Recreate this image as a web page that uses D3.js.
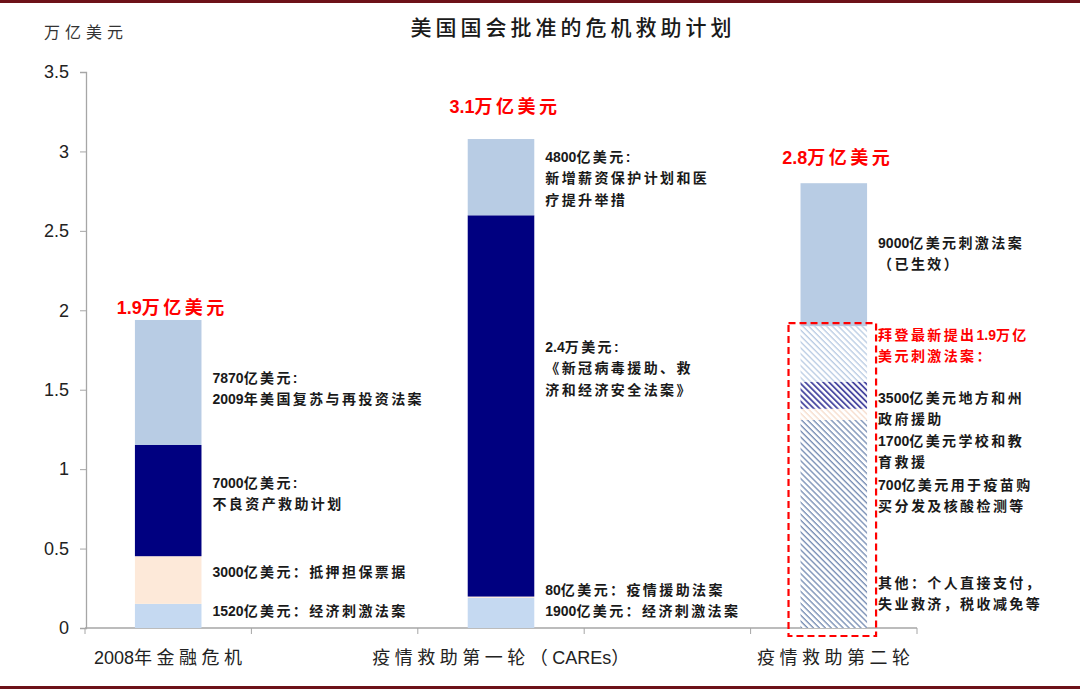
<!DOCTYPE html>
<html>
<head>
<meta charset="utf-8">
<script src="https://d3js.org/d3.v7.min.js"></script>
<style>
  body { margin: 0; background: #fff; }
  svg { display: block; }
  text { font-family: "Liberation Sans", "Noto Sans CJK SC", sans-serif; }
</style>
</head>
<body>
<svg id="chart" width="1080" height="689"></svg>
<script>
// x slots: the original chart leaves an empty category between bars
var xSlots = ["2008年金融危机", "gap1", "疫情救助第一轮（CAREs）", "gap2", "疫情救助第二轮"];
var barCats = ["2008年金融危机", "疫情救助第一轮（CAREs）", "疫情救助第二轮"];
var yTicks = [0, 0.5, 1, 1.5, 2, 2.5, 3, 3.5];

// stacked segments, bottom to top, in 万亿美元
var crisis2008 = [0.152, 0.30, 0.70, 0.787];
var caresRound1 = [0.19, 0.008, 2.4, 0.48];
var covidRound2 = [1.31, 0.07, 0.17, 0.35, 0.90];

var totals = ["1.9万亿美元", "3.1万亿美元", "2.8万亿美元"];
var totalsAt = [2.014, 3.279, 2.959];   // where the red total labels sit (y value)

// annotation text per bar: [y value of first line, lines, colour]
var notes2008 = [
  [1.574, ["7870亿美元:", "2009年美国复苏与再投资法案"]],
  [0.913, ["7000亿美元:", "不良资产救助计划"]],
  [0.352, ["3000亿美元：抵押担保票据"]],
  [0.107, ["1520亿美元：经济刺激法案"]]
];
var notesCares = [
  [2.965, ["4800亿美元:", "新增薪资保护计划和医", "疗提升举措"]],
  [1.769, ["2.4万美元:", "《新冠病毒援助、救", "济和经济安全法案》"]],
  [0.239, ["80亿美元：疫情援助法案"]],
  [0.107, ["1900亿美元：经济刺激法案"]]
];
var notesRound2 = [
  [2.424, ["9000亿美元刺激法案", "（已生效）"]],
  [1.845, ["拜登最新提出1.9万亿", "美元刺激法案："], "red"],
  [1.448, ["3500亿美元地方和州", "政府援助"]],
  [1.177, ["1700亿美元学校和教", "育救援"]],
  [0.900, ["700亿美元用于疫苗购", "买分发及核酸检测等"]],
  [0.283, ["其他：个人直接支付，", "失业救济，税收减免等"]]
];

var svg = d3.select("#chart");
var defs = svg.append("defs");

// write one line of mixed text: CJK runs spaced out, latin/digit runs tight
function mixedLine(sel, str, spacing, first) {
  var runs = str.split(/([\x00-\x7F]+)/).filter(function(s) { return s.length; });
  runs.forEach(function(r, k) {
    var ts = sel.append("tspan").text(r)
      .style("letter-spacing", /^[\x00-\x7F]+$/.test(r) ? "0px" : spacing + "px");
    if (k === 0 && first) first(ts);
  });
}

// hatch patterns for the proposed (not yet passed) package
function hatch(id, color, w) {
  var p = defs.append("pattern")
    .attr("id", id)
    .attr("patternUnits", "userSpaceOnUse")
    .attr("width", 4.2).attr("height", 4.2)
    .attr("patternTransform", "rotate(-45)");
  p.append("rect").attr("width", 4.2).attr("height", 4.2).attr("fill", "#fff");
  p.append("line").attr("x1", 1).attr("y1", 0).attr("x2", 1).attr("y2", 4.2)
    .attr("stroke", color).attr("stroke-width", w);
}
hatch("h-other", "#7a90b6", 1.4);
hatch("h-peach", "#f6dccb", 1.3);
hatch("h-navy", "#3a3a9a", 1.7);
hatch("h-light", "#b8cbe3", 1.3);

var fills = [
  ["#c5d9f1", "#fde9d9", "#000080", "#b8cce4"],
  ["#c5d9f1", "#fde9d9", "#000080", "#b8cce4"],
  ["url(#h-other)", "url(#h-peach)", "url(#h-navy)", "url(#h-light)", "#b8cce4"]
];

var x = d3.scaleBand().domain(xSlots).range([85, 917]);
var y = d3.scaleLinear().domain([0, 3.5]).range([628, 72]);
var barW = x.bandwidth() * 0.4;

// frame lines
svg.append("rect").attr("x", 0).attr("y", 0).attr("width", 1080).attr("height", 3).attr("fill", "#6d1218");
svg.append("rect").attr("x", 0).attr("y", 686).attr("width", 1080).attr("height", 3).attr("fill", "#6d1218");

// title and unit
svg.append("text").attr("x", 573).attr("y", 35).attr("text-anchor", "middle")
  .style("font-family", "'Noto Sans CJK SC'").style("font-size", "21px").style("font-weight", 500)
  .style("letter-spacing", "4px")
  .attr("fill", "#1a1a1a").text("美国国会批准的危机救助计划");
svg.append("text").attr("x", 44).attr("y", 38)
  .style("font-family", "'Noto Sans CJK SC'").style("font-size", "16px")
  .style("letter-spacing", "5px")
  .attr("fill", "#333").text("万亿美元");

// y axis
var yAxis = svg.append("g").attr("transform", "translate(86,0)")
  .call(d3.axisLeft(y).tickValues(yTicks).tickFormat(function(d) { return String(d); })
    .tickSize(6).tickPadding(11));
yAxis.select(".domain").attr("stroke", "#a6a6a6").attr("stroke-width", 1.3);
yAxis.selectAll(".tick line").attr("stroke", "#a6a6a6");
yAxis.selectAll(".tick text").style("font-size", "18px").attr("fill", "#222")
  .style("font-family", "'Liberation Sans'");

// x axis: ticks at slot boundaries
var bounds = xSlots.map(function(s) { return x(s); }).concat([x.range()[1]]);
var xg = svg.append("g");
xg.append("line").attr("x1", x.range()[0]).attr("x2", x.range()[1])
  .attr("y1", y(0)).attr("y2", y(0)).attr("stroke", "#a6a6a6").attr("stroke-width", 1.3);
xg.selectAll("line.tk").data(bounds).enter().append("line").attr("class", "tk")
  .attr("x1", function(d) { return d; }).attr("x2", function(d) { return d; })
  .attr("y1", y(0)).attr("y2", y(0) + 6).attr("stroke", "#a6a6a6");
xg.selectAll("text").data(barCats).enter().append("text")
  .attr("x", function(d) { return x(d) + x.bandwidth() / 2 + 2; })
  .attr("y", 664).attr("text-anchor", "middle")
  .style("font-size", "18px").attr("fill", "#222")
  .each(function(d) { mixedLine(d3.select(this), d, 4.5); });

// stacked bars
var stacks = [crisis2008, caresRound1, covidRound2];
stacks.forEach(function(vals, i) {
  var cat = barCats[i];
  var cum = 0;
  var segs = vals.map(function(v, j) {
    var s = { y0: cum, y1: cum + v, fill: fills[i][j] };
    cum += v;
    return s;
  });
  svg.append("g").selectAll("rect").data(segs).enter().append("rect")
    .attr("x", x(cat) + (x.bandwidth() - barW) / 2)
    .attr("width", barW)
    .attr("y", function(d) { return y(d.y1); })
    .attr("height", function(d) { return y(d.y0) - y(d.y1); })
    .attr("fill", function(d) { return d.fill; });
});

// red dashed box round the proposed package
var c3 = barCats[2];
var proposed = d3.sum(covidRound2.slice(0, 4));
svg.append("rect")
  .attr("x", x(c3) + (x.bandwidth() - barW) / 2 - 12)
  .attr("y", y(proposed) - 3)
  .attr("width", barW + 21)
  .attr("height", y(0) - y(proposed) + 11)
  .attr("fill", "none").attr("stroke", "#ff0000").attr("stroke-width", 2.2)
  .attr("stroke-dasharray", "7,4");

// red totals
svg.selectAll("text.total").data(barCats).enter().append("text").attr("class", "total")
  .attr("x", function(d) { return x(d) + x.bandwidth() / 2 + 4; })
  .attr("y", function(d, i) { return y(totalsAt[i]); })
  .attr("dominant-baseline", "central").attr("text-anchor", "middle")
  .style("font-size", "18px").style("font-weight", "bold")
  .attr("fill", "#ff0000")
  .each(function(d, i) { mixedLine(d3.select(this), totals[i], 3.5); });

// annotations
[notes2008, notesCares, notesRound2].forEach(function(notes, i) {
  var cat = barCats[i];
  var tx = x(cat) + (x.bandwidth() + barW) / 2 + 11;
  notes.forEach(function(n) {
    var t = svg.append("text")
      .attr("x", tx).attr("y", y(n[0]))
      .attr("dominant-baseline", "central")
      .style("font-size", "14px").style("font-weight", "bold")
      .attr("fill", n[2] === "red" ? "#ff0000" : "#1a1a1a");
    n[1].forEach(function(line, k) {
      mixedLine(t, line, 2.4, function(ts) {
        ts.attr("x", tx).attr("dy", k === 0 ? 0 : 21.3);
      });
    });
  });
});
</script>
</body>
</html>
